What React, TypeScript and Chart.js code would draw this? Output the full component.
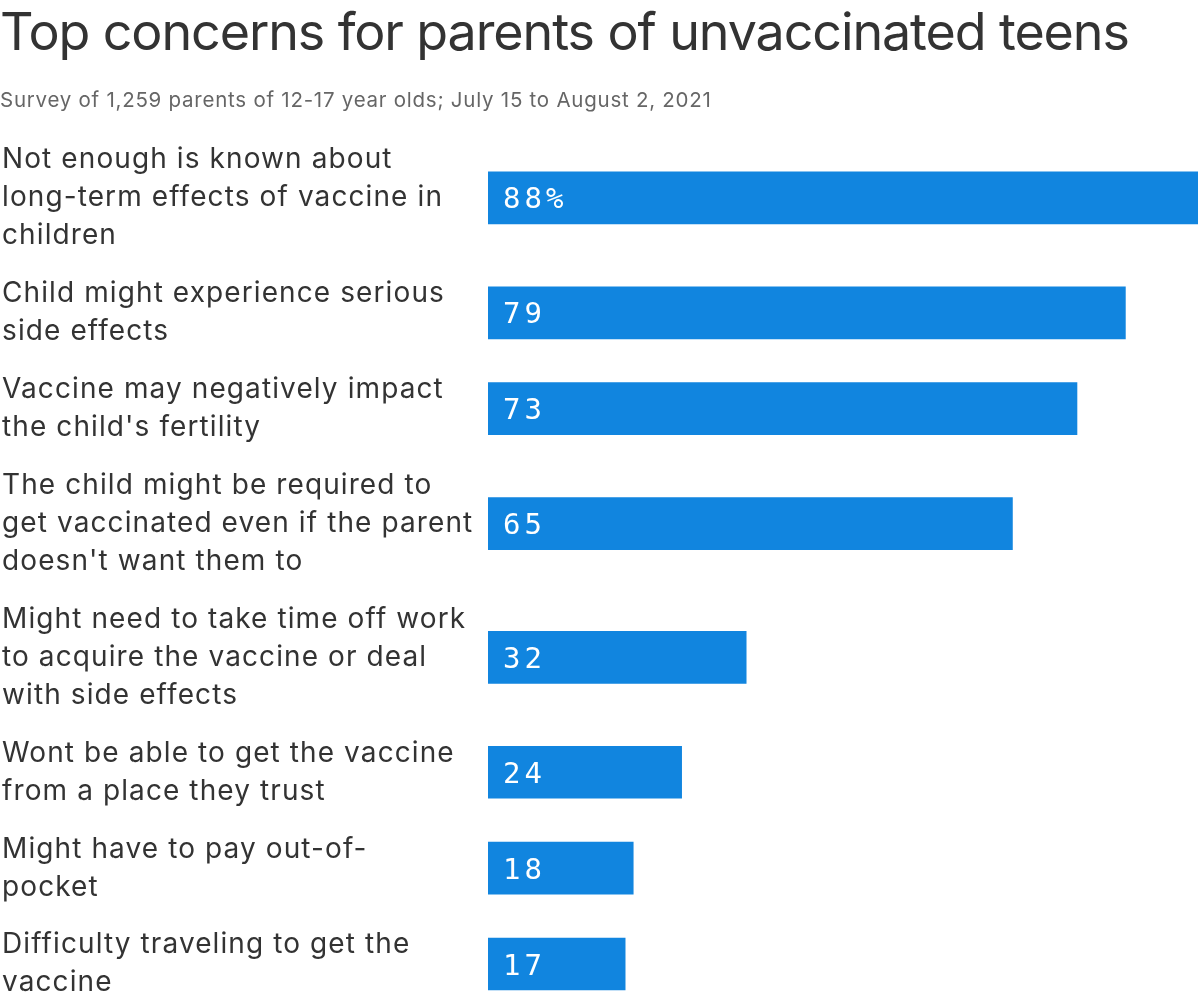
import React, { useEffect, useRef } from 'react';
import { Chart, registerables } from 'chart.js';

Chart.register(...registerables);

const TITLE = 'Top concerns for parents of unvaccinated teens';
const SUBTITLE = 'Survey of 1,259 parents of 12-17 year olds; July 15 to August 2, 2021';

const categories: string[][] = [
  ['Not enough is known about', 'long-term effects of vaccine in', 'children'],
  ['Child might experience serious', 'side effects'],
  ['Vaccine may negatively impact', "the child's fertility"],
  ['The child might be required to', 'get vaccinated even if the parent', "doesn't want them to"],
  ['Might need to take time off work', 'to acquire the vaccine or deal', 'with side effects'],
  ['Wont be able to get the vaccine', 'from a place they trust'],
  ['Might have to pay out-of-', 'pocket'],
  ['Difficulty traveling to get the', 'vaccine'],
];
const values = [88, 79, 73, 65, 32, 24, 18, 17];
const valueLabels = ['88%', '79', '73', '65', '32', '24', '18', '17'];

const LINE_HEIGHT = 38;
const ROW_GAP = 20;
const FONT = 'Inter, "Noto Sans", sans-serif';

export default function App() {
  const ref = useRef<HTMLCanvasElement | null>(null);

  useEffect(() => {
    document.body.style.margin = '0';
    if (!ref.current) return;

    // row centres derived from the number of label lines in each category
    const rowCenters: number[] = [];
    let acc = 0;
    categories.forEach((lines) => {
      const h = lines.length * LINE_HEIGHT;
      rowCenters.push(acc + h / 2);
      acc += h + ROW_GAP;
    });
    const total = acc - ROW_GAP;

    const labelPlugin = {
      id: 'valueLabels',
      beforeDraw(chart: any) {
        chart.ctx.letterSpacing = '1.1px';
      },
      afterDatasetsDraw(chart: any) {
        const ctx = chart.ctx;
        const meta = chart.getDatasetMeta(0);
        ctx.save();
        ctx.font = '29px "DejaVu Sans Mono", monospace';
        ctx.letterSpacing = '4px';
        ctx.fillStyle = '#ffffff';
        ctx.textAlign = 'left';
        ctx.textBaseline = 'alphabetic';
        meta.data.forEach((bar: any, i: number) => {
          const p = bar.getProps(['base', 'y'], true);
          ctx.fillText(valueLabels[i], p.base + 15, p.y + 10.5);
        });
        ctx.restore();
      },
    };

    const chart = new Chart(ref.current, {
      type: 'bar',
      data: {
        datasets: [
          {
            data: values.map((v, i) => ({ x: v, y: rowCenters[i] })),
            backgroundColor: '#1185df',
            borderWidth: 0,
            barThickness: 52,
          },
        ],
      },
      options: {
        indexAxis: 'y',
        animation: false,
        responsive: false,
        maintainAspectRatio: false,
        layout: { padding: { top: 141, left: 2, right: 2, bottom: 0 } },
        plugins: {
          legend: { display: false },
          tooltip: { enabled: false },
        },
        scales: {
          x: { type: 'linear', min: 0, max: 88, display: false },
          y: {
            type: 'linear',
            min: 0,
            max: total,
            reverse: true,
            offset: false,
            grid: { display: false },
            border: { display: false },
            afterFit: (s: any) => {
              s.width = 486;
              s.paddingTop = 0;
              s.paddingBottom = 0;
            },
            afterBuildTicks: (s: any) => {
              s.ticks = rowCenters.map((v) => ({ value: v }));
            },
            ticks: {
              autoSkip: false,
              crossAlign: 'far',
              padding: 0,
              color: '#333333',
              font: { family: FONT, size: 28, lineHeight: LINE_HEIGHT / 28 },
              callback: (_v: any, i: number) => categories[i],
            },
          },
        },
      } as any,
      plugins: [labelPlugin],
    });
    return () => chart.destroy();
  }, []);

  return (
    <div style={{ position: 'relative', width: 1200, height: 1002, overflow: 'hidden', background: '#fff' }}>
      <canvas ref={ref} width={1200} height={1002} style={{ position: 'absolute', left: 0, top: 0, width: 1200, height: 1002 }} />
      <div
        style={{
          position: 'absolute',
          left: 0,
          top: 6,
          fontFamily: FONT,
          fontSize: 52,
          lineHeight: 1,
          letterSpacing: '-1.1px',
          color: '#333333',
          whiteSpace: 'nowrap',
        }}
      >
        {TITLE}
      </div>
      <div
        style={{
          position: 'absolute',
          left: 0,
          top: 90,
          fontFamily: FONT,
          fontSize: 20.5,
          lineHeight: 1,
          letterSpacing: '0.75px',
          color: '#666666',
          whiteSpace: 'nowrap',
        }}
      >
        {SUBTITLE}
      </div>
    </div>
  );
}
